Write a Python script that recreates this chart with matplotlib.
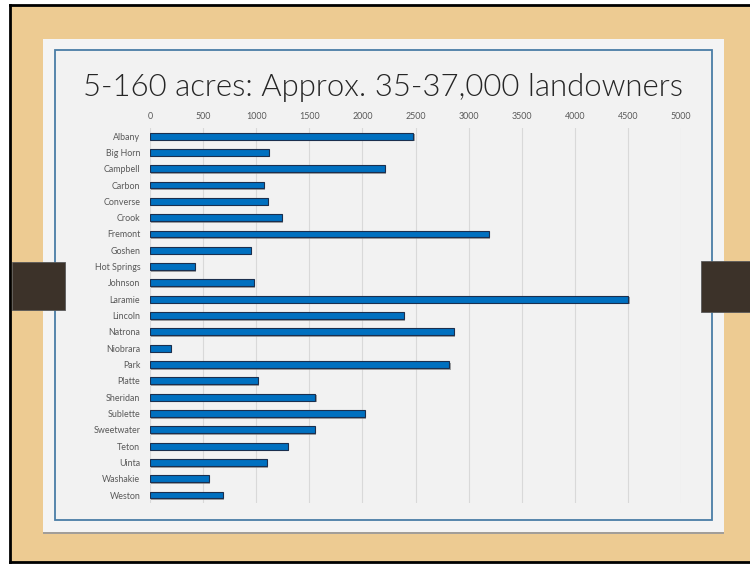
import matplotlib.pyplot as plt
import matplotlib.patheffects as pe
from matplotlib.patches import Rectangle

# Landowners with 5-160 acres, by county
counties = ['Albany', 'Big Horn', 'Campbell', 'Carbon', 'Converse', 'Crook',
            'Fremont', 'Goshen', 'Hot Springs', 'Johnson', 'Laramie', 'Lincoln',
            'Natrona', 'Niobrara', 'Park', 'Platte', 'Sheridan', 'Sublette',
            'Sweetwater', 'Teton', 'Uinta', 'Washakie', 'Weston']
landowners = [2480, 1120, 2210, 1070, 1110, 1240,
              3190, 950, 420, 980, 4505, 2390,
              2860, 195, 2820, 1015, 1555, 2025,
              1550, 1300, 1100, 555, 685]
x_ticks = [0, 500, 1000, 1500, 2000, 2500, 3000, 3500, 4000, 4500, 5000]

title = '5-160 acres: Approx. 35-37,000 landowners'

fig = plt.figure(figsize=(7.5, 5.64), dpi=100)
fig.patch.set_facecolor('white')

# slide background drawn in pixel space
bg = fig.add_axes([0, 0, 1, 1])
bg.set_xlim(0, 750)
bg.set_ylim(564, 0)
bg.axis('off')
bg.add_patch(Rectangle((10, 5), 740, 557, facecolor='#EDCB92', edgecolor='none'))
bg.plot([10, 10], [5, 562], color='black', lw=2)
bg.plot([10, 750], [5, 5], color='black', lw=2)
bg.plot([10, 750], [562, 562], color='black', lw=2)
# white slide panel with shadow
bg.add_patch(Rectangle((43, 39), 681, 493, facecolor='#F4F4F4', edgecolor='none',
                       path_effects=[pe.SimplePatchShadow(offset=(0, -1.5), shadow_rgbFace='#9A9A9A', alpha=0.9),
                                     pe.Normal()]))
bg.add_patch(Rectangle((55, 49.5), 657, 470.5, facecolor='#F2F2F2', edgecolor='#4A7DA6', lw=1.3))
# dark tabs on the sides
bg.add_patch(Rectangle((12, 262), 53, 48, facecolor='#3C3229', edgecolor='#5A5A5A', lw=0.6))
bg.add_patch(Rectangle((701, 261), 49, 51, facecolor='#3C3229', edgecolor='#5A5A5A', lw=0.6))
bg.text(383, 88, title, ha='center', va='center', fontsize=22.4,
        family='Lato', fontweight=300, color='#262626')

ax = fig.add_axes([0.2, 0.1078, 0.708, 0.6654])
ax.set_facecolor('none')
y = list(range(len(counties)))
ax.barh(y, landowners, height=0.42, color='#0070C0', edgecolor='#1B2F4E', lw=0.8,
        zorder=3,
        path_effects=[pe.SimplePatchShadow(offset=(1, -1.2), shadow_rgbFace='#7F7F7F', alpha=0.7),
                      pe.Normal()])
ax.set_xlim(0, 5000)
ax.set_ylim(len(counties) - 0.5, -0.5)
ax.set_yticks(y)
ax.set_yticklabels(counties)
ax.set_xticks(x_ticks)
ax.xaxis.tick_top()
ax.tick_params(axis='both', length=0, labelsize=6.4, labelcolor='#595959')
ax.tick_params(axis='x', pad=5)
ax.tick_params(axis='y', pad=7)
for lbl in ax.get_xticklabels() + ax.get_yticklabels():
    lbl.set_family('Lato')
ax.grid(axis='x', color='#D9D9D9', lw=0.8, zorder=0)
for s in ax.spines.values():
    s.set_visible(False)

fig.savefig('out.png', dpi=100)
